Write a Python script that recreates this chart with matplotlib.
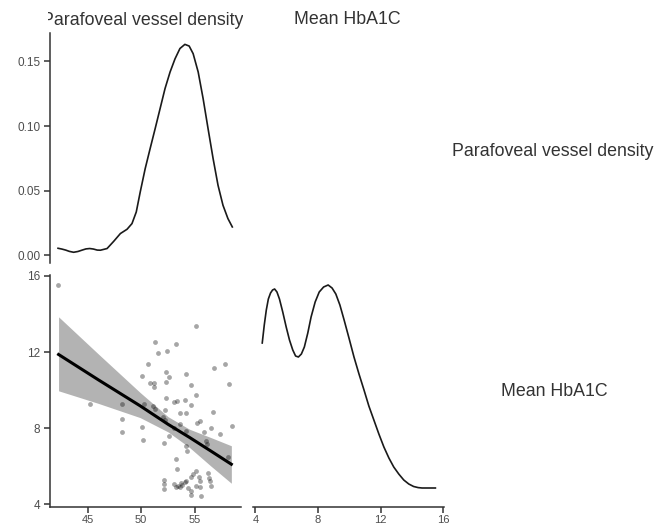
import matplotlib
matplotlib.use("Agg")
import matplotlib.pyplot as plt
import numpy as np

plt.rcParams['font.family'] = ['Liberation Sans', 'DejaVu Sans']

# Labels
varNames = ['Parafoveal vessel density', 'Mean HbA1C']

# Scatter: parafoveal vessel density (x) vs mean HbA1C (y)
vesselDensity = [42.24, 45.19, 48.2, 48.2, 48.2, 50.05, 50.2, 50.26, 50.1, 50.6,
                 51.3, 51.6, 50.85, 51.2, 51.2, 51.1, 51.3, 52.3, 52.6, 52.3,
                 52.3, 52.4, 53.2, 55.1, 53.3, 53.1, 54.1, 54.2, 54.6, 55.1,
                 54.6, 53.6, 54.2, 52.2, 52.0, 52.2, 52.6, 52.1, 53.1, 53.6,
                 54.2, 55.2, 55.5, 55.85, 56.55, 56.65, 56.8, 57.8, 58.2, 57.3,
                 58.5, 58.1, 54.2, 54.3, 56.0, 56.1, 53.2, 53.3, 52.15, 52.15,
                 52.1, 53.1, 53.4, 53.6, 53.8, 54.1, 54.2, 54.4, 54.6, 54.6,
                 54.65, 54.8, 55.15, 55.35, 55.5, 55.15, 55.5, 55.6, 56.2, 56.3,
                 56.45, 56.5, 53.25, 53.7]
meanHbA1c = [15.5, 9.29, 9.29, 8.47, 7.8, 8.08, 7.38, 9.26, 10.76, 11.38,
             12.55, 11.97, 10.36, 10.36, 10.17, 9.15, 9.0, 10.96, 10.7, 10.4,
             9.6, 12.06, 12.43, 13.36, 9.4, 9.36, 9.47, 10.83, 10.24, 9.75,
             9.19, 8.78, 8.78, 8.96, 8.56, 8.42, 7.56, 7.21, 8.03, 8.24,
             7.86, 8.29, 8.35, 7.8, 7.98, 8.87, 11.18, 11.39, 10.3, 7.7,
             8.1, 6.49, 7.07, 6.82, 7.33, 7.15, 6.35, 5.84, 5.28, 5.05,
             4.79, 5.05, 4.95, 4.88, 5.02, 5.14, 5.23, 4.83, 4.7, 4.48,
             5.44, 5.56, 5.72, 5.44, 5.23, 4.98, 4.91, 4.42, 5.65, 5.4,
             5.2, 4.97, 4.92, 5.1]

# Linear fit with confidence band
fitX = [42.3, 46.0, 49.9, 52.5, 54.5, 56.5, 58.4]
fitY = [11.87, 10.54, 9.17, 8.2, 7.51, 6.79, 6.1]
fitLow = [9.96, 9.3, 8.55, 7.8, 6.98, 6.0, 5.1]
fitHigh = [13.85, 11.9, 9.87, 8.6, 7.94, 7.5, 7.07]

# Density of parafoveal vessel density
densX1 = [42.25, 42.6, 42.96, 43.3, 43.7, 44.1, 44.5, 44.85, 45.2, 45.55, 45.9,
          46.2, 46.82, 47.44, 48.06, 48.68, 49.14, 49.54, 49.91, 50.37, 50.83,
          51.3, 51.76, 52.22, 52.69, 53.15, 53.61, 54.07, 54.47, 54.84, 55.31,
          55.77, 56.23, 56.7, 57.16, 57.62, 58.08, 58.49]
densY1 = [0.0054, 0.0048, 0.004, 0.003, 0.0023, 0.0029, 0.004, 0.0049, 0.0052,
          0.0048, 0.004, 0.0039, 0.0052, 0.0108, 0.0168, 0.0201, 0.0245, 0.0335,
          0.049, 0.067, 0.0825, 0.098, 0.1135, 0.129, 0.1418, 0.152, 0.160,
          0.1632, 0.1619, 0.156, 0.1418, 0.1212, 0.098, 0.0748, 0.0541, 0.0387,
          0.0284, 0.0219]

# Density of mean HbA1C
densX2 = [4.44, 4.57, 4.70, 4.83, 4.97, 5.10, 5.23, 5.38, 5.54, 5.75, 5.97,
          6.18, 6.39, 6.57, 6.75, 6.94, 7.13, 7.35, 7.56, 7.82, 8.08, 8.36,
          8.65, 8.9, 9.14, 9.4, 9.67, 9.98, 10.3, 10.62, 10.94, 11.25, 11.57,
          11.89, 12.21, 12.53, 12.84, 13.16, 13.48, 13.8, 14.11, 14.4, 14.65,
          15.5]
densY2 = [0.145, 0.163, 0.178, 0.189, 0.195, 0.198, 0.199, 0.196, 0.189, 0.176,
          0.161, 0.148, 0.138, 0.132, 0.131, 0.134, 0.141, 0.155, 0.171, 0.186,
          0.196, 0.201, 0.203, 0.200, 0.194, 0.183, 0.168, 0.150, 0.131, 0.114,
          0.098, 0.082, 0.068, 0.054, 0.041, 0.030, 0.021, 0.014, 0.008, 0.004,
          0.0015, 0.0004, 0.0, 0.0]

W, H = 668, 527
fig = plt.figure(figsize=(W / 100, H / 100), dpi=100)

def box(x0, y0, x1, y1):
    # pixel box (top-left origin) -> figure fraction
    return [x0 / W, 1 - y1 / H, (x1 - x0) / W, (y1 - y0) / H]

axisCol = '#333333'
tickCol = '#4D4D4D'

def style(ax, left=True, bottom=True):
    for s in ['top', 'right']:
        ax.spines[s].set_visible(False)
    ax.spines['left'].set_visible(left)
    ax.spines['bottom'].set_visible(bottom)
    for s in ['left', 'bottom']:
        ax.spines[s].set_color(axisCol)
        ax.spines[s].set_linewidth(1.1)
    ax.tick_params(colors=axisCol, labelcolor=tickCol, labelsize=8.5,
                   length=4, width=1.1, pad=3)
    ax.tick_params(axis='x', labelsize=8, pad=1.5)
    if not left:
        ax.set_yticks([])
    if not bottom:
        ax.set_xticks([])

# top-left: density of vessel density
ax1 = fig.add_axes(box(50, 33, 241, 263))
ax1.plot(densX1, densY1, color='#1a1a1a', lw=1.2, solid_joinstyle='round')
ax1.set_xlim(41.5, 59.3)
ax1.set_ylim(-0.006, 0.172)
ax1.set_yticks([0.0, 0.05, 0.10, 0.15])
ax1.set_yticklabels(['0.00', '0.05', '0.10', '0.15'])
style(ax1, left=True, bottom=False)

# bottom-left: scatter with fit
ax2 = fig.add_axes(box(50, 275, 241, 507))
ax2.fill_between(fitX, fitLow, fitHigh, color='#b3b3b3', lw=0, zorder=1)
ax2.scatter(vesselDensity, meanHbA1c, s=12, color='black', alpha=0.35,
            lw=0, zorder=2)
ax2.plot(fitX, fitY, color='black', lw=2.2, zorder=3)
ax2.set_xlim(41.5, 59.3)
ax2.set_ylim(3.85, 16.05)
ax2.set_xticks([45, 50, 55])
ax2.set_yticks([4, 8, 12, 16])
style(ax2)

# bottom-right: density of HbA1C
ax3 = fig.add_axes(box(253, 275, 444, 507))
ax3.plot(densX2, densY2, color='#1a1a1a', lw=1.2, solid_joinstyle='round')
ax3.set_xlim(3.85, 16.05)
ax3.set_ylim(-0.019, 0.213)
ax3.set_xticks([4, 8, 12, 16])
style(ax3, left=False, bottom=True)

# column strips on top (first one is clipped to its column)
strip1 = fig.add_axes(box(48, 0, 243, 33))
strip1.axis('off')
strip1.text(0.5 - 2.5 / 195, 0.39, varNames[0], ha='center', va='center',
            fontsize=12.8, color='#333333', clip_on=True)
fig.text(347.5 / W, 1 - 20 / H, varNames[1], ha='center', va='center',
         fontsize=12.8, color='#333333')

# row strips on the right
fig.text(553 / W, 1 - 151 / H, varNames[0], ha='center', va='center',
         fontsize=12.8, color='#333333')
fig.text(554.5 / W, 1 - 391 / H, varNames[1], ha='center', va='center',
         fontsize=12.8, color='#333333')

plt.savefig('out.png', dpi=100)
